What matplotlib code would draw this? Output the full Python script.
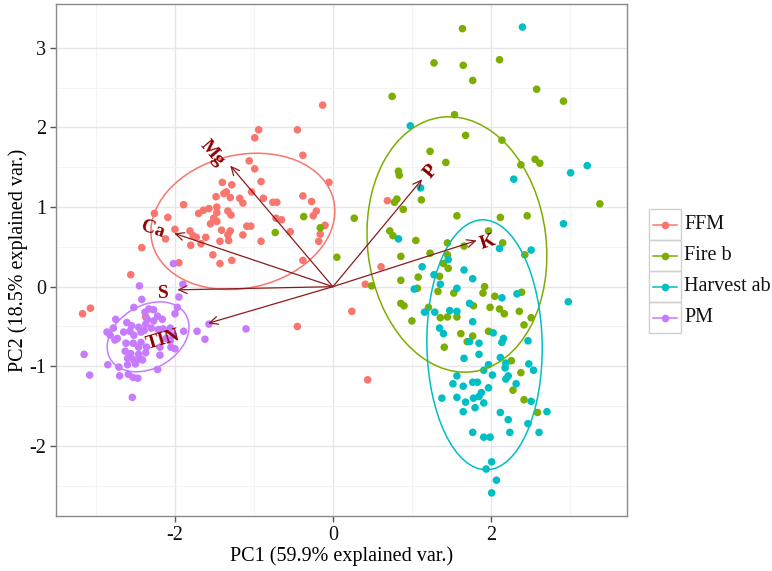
import numpy as np
import matplotlib
matplotlib.use("Agg")
import matplotlib.pyplot as plt
from matplotlib.patches import Ellipse, Rectangle
from matplotlib.lines import Line2D

plt.rcParams['font.family'] = ['Liberation Serif', 'DejaVu Serif']

# ---- scores ----
ffm_x = [-0.13, -0.94, -0.45, -0.99, -0.38, -1.06, -0.99, -0.05, -1.40, -1.28,
         -0.91, -1.48, -1.38, -1.35, -1.30, -1.03, -1.18, -1.14, -0.88, -0.71,
         -0.76, -0.38, -0.27, -1.89, -1.70, -1.64, -1.57, -1.47, -1.47, -1.33,
         -1.29, -0.21, -0.25, -2.26, -2.09, -1.51, -1.55, -1.47, -0.72, -0.65,
         -0.10, -2.00, -1.81, -1.77, -1.41, -1.30, -1.33, -1.09, -1.04, -0.16,
         -2.12, -1.73, -1.61, -1.43, -1.32, -1.14, -0.91, -0.54, -0.18, -2.42,
         -1.80, -1.67, -1.52, -1.28, -1.43, -0.38, -1.95, -2.56, -3.17, -3.07,
         0.24, 0.69, 0.61, 0.41, 0.44, -0.45, -2.37]
ffm_y = [2.28, 1.97, 1.97, 1.87, 1.65, 1.58, 1.48, 1.31, 1.31, 1.28,
         1.32, 1.13, 1.17, 1.19, 1.12, 1.19, 1.11, 1.05, 1.11, 1.06,
         1.06, 1.14, 1.07, 1.03, 0.92, 0.96, 0.98, 1.00, 0.93, 0.95,
         0.90, 0.95, 0.89, 0.92, 0.87, 0.86, 0.79, 0.82, 0.86, 0.84,
         0.77, 0.72, 0.70, 0.64, 0.71, 0.70, 0.65, 0.76, 0.76, 0.66,
         0.60, 0.62, 0.62, 0.57, 0.58, 0.65, 0.57, 0.69, 0.57, 0.49,
         0.52, 0.54, 0.40, 0.33, 0.29, 0.33, 0.30, 0.15, -0.34, -0.27,
         -0.31, 1.08, 0.25, 0.03, -1.17, -0.50, -0.38]

fire_x = [1.64, 1.28, 1.65, 2.11, 1.77, 2.58, 2.92, 0.75, 1.54, 1.68,
          2.14, 1.23, 1.43, 2.38, 2.56, 2.62, 0.83, 0.84, 0.81, 0.78,
          1.12, 0.89, 3.38, 0.27, 1.57, 2.12, 2.46, 0.72, 0.76, 1.05,
          1.45, 1.97, 1.66, 2.15, -0.37, -0.16, -0.73, 0.05, 0.86, 1.23,
          1.45, 1.40, 1.46, 2.43, 1.08, 0.86, 0.49, 1.35, 1.07, 1.33,
          1.53, 1.92, 1.90, 2.05, 2.39, 0.86, 0.90, 1.21, 1.78, 1.99,
          2.11, 2.36, 2.17, 1.36, 1.45, 1.57, 2.51, 1.00, 2.42, 1.97,
          1.62, 1.77, 1.70, 1.41, 2.26, 2.38, 2.28, 2.42, 2.59]
fire_y = [3.24, 2.81, 2.78, 2.85, 2.59, 2.48, 2.33, 2.39, 2.16, 1.90,
          1.84, 1.70, 1.56, 1.53, 1.60, 1.55, 1.45, 1.40, 1.10, 1.06,
          1.09, 0.97, 1.04, 0.86, 0.89, 0.87, 0.89, 0.70, 0.64, 0.58,
          0.55, 0.70, 0.51, 0.55, 0.88, 0.74, 0.68, 0.37, 0.38, 0.42,
          0.40, 0.29, 0.23, 0.40, 0.12, 0.08, 0.01, 0.13, -0.02, -0.06,
          -0.08, 0.00, -0.08, -0.12, -0.07, -0.21, -0.24, -0.26, -0.24, -0.26,
          -0.28, -0.31, -0.34, -0.39, -0.38, -0.38, -0.39, -0.43, -0.48, -0.56,
          -0.59, -0.62, -0.69, -0.76, -0.93, -1.08, -1.30, -1.42, -1.58]

harv_x = [2.40, 0.98, 3.22, 3.01, 2.29, 1.11, 2.92, 0.83, 2.11, 2.51,
          1.46, 1.13, 1.66, 1.28, 1.77, 1.36, 1.03, 1.57, 2.33, 2.14,
          2.98, 1.73, 1.16, 1.29, 1.48, 1.57, 1.77, 1.35, 1.40, 2.03,
          2.16, 2.14, 2.47, 1.85, 1.73, 1.85, 1.66, 2.12, 2.19, 2.18,
          2.48, 2.54, 1.97, 1.91, 2.02, 1.57, 2.22, 2.19, 1.52, 1.65,
          1.77, 1.83, 1.97, 2.32, 1.88, 1.85, 1.78, 1.57, 1.38, 1.68,
          1.91, 1.80, 1.65, 2.51, 2.12, 2.71, 2.22, 2.47, 1.77, 2.24,
          2.61, 1.91, 1.99, 2.01, 1.94, 2.07, 2.01]
harv_y = [3.26, 2.02, 1.52, 1.43, 1.35, 1.24, 0.79, 0.60, 0.48, 0.46,
          0.34, 0.25, 0.21, 0.15, 0.10, 0.03, -0.03, -0.02, -0.09, -0.14,
          -0.19, -0.21, -0.32, -0.32, -0.30, -0.31, -0.44, -0.52, -0.59, -0.58,
          -0.65, -0.70, -0.68, -0.71, -0.69, -0.85, -0.90, -0.89, -0.96, -1.02,
          -0.97, -1.05, -0.98, -1.05, -1.11, -1.12, -1.12, -1.16, -1.22, -1.25,
          -1.20, -1.20, -1.27, -1.22, -1.33, -1.38, -1.40, -1.39, -1.40, -1.45,
          -1.46, -1.52, -1.57, -1.44, -1.58, -1.57, -1.67, -1.72, -1.83, -1.83,
          -1.83, -1.89, -1.89, -2.20, -2.29, -2.43, -2.59]

pm_x = [-2.02, -2.45, -1.90, -2.42, -1.95, -1.97, -2.52, -2.38, -2.33, -2.27,
        -2.22, -2.16, -2.35, -2.27, -2.75, -2.61, -2.55, -2.46, -2.37, -2.30,
        -2.21, -2.15, -2.06, -2.78, -2.86, -2.82, -2.65, -2.57, -2.52, -2.43,
        -2.39, -2.00, -1.89, -1.72, -1.57, -1.62, -1.10, -2.76, -2.73, -2.62,
        -2.53, -2.43, -2.46, -2.36, -2.19, -2.05, -2.00, -2.63, -2.56, -2.46,
        -2.37, -2.19, -2.60, -2.52, -2.44, -2.41, -3.15, -2.85, -2.71, -2.60,
        -2.50, -2.22, -3.08, -2.70, -2.59, -2.53, -2.47, -2.54, -2.06, -2.02,
        -2.11]
pm_y = [0.29, 0.01, 0.03, -0.16, -0.13, -0.26, -0.26, -0.32, -0.28, -0.29,
        -0.37, -0.41, -0.41, -0.43, -0.41, -0.45, -0.49, -0.51, -0.47, -0.52,
        -0.54, -0.53, -0.52, -0.52, -0.57, -0.61, -0.57, -0.56, -0.61, -0.57,
        -0.55, -0.34, -0.56, -0.56, -0.47, -0.66, -0.53, -0.67, -0.65, -0.71,
        -0.71, -0.70, -0.76, -0.76, -0.76, -0.76, -0.78, -0.81, -0.84, -0.85,
        -0.83, -0.86, -0.90, -0.92, -0.91, -0.92, -0.85, -0.98, -1.01, -0.98,
        -0.97, -1.04, -1.11, -1.12, -1.10, -1.14, -1.15, -1.39, -0.68, -0.61,
        -0.65]

groups = ['FFM', 'Fire b', 'Harvest ab', 'PM']
group_x = [ffm_x, fire_x, harv_x, pm_x]
group_y = [ffm_y, fire_y, harv_y, pm_y]
colors = ['#F8766D', '#7CAE00', '#00BFC4', '#C77CFF']

# normal-probability ellipses: centre, semi axes, angle (deg)
ell_cx = [-1.14, 1.57, 1.92, -2.34]
ell_cy = [0.82, 0.53, -0.73, -0.63]
ell_a = [1.18, 1.61, 1.57, 0.553]
ell_b = [0.835, 1.13, 0.73, 0.394]
ell_ang = [13, 97, 91, 30]

# variable loadings (arrow tips) and label spots
var_names = ['Mg', 'Ca', 'S', 'TIN', 'P', 'K']
var_x = [-1.30, -2.01, -1.97, -1.58, 1.13, 1.82]
var_y = [1.52, 0.67, -0.04, -0.46, 1.35, 0.58]
lab_x = [-1.53, -2.28, -2.15, -2.15, 1.24, 1.96]
lab_y = [1.68, 0.72, -0.09, -0.67, 1.44, 0.56]

W, H = 772, 571
fig = plt.figure(figsize=(W / 100, H / 100), dpi=100)
ax = fig.add_axes([55.7 / W, 1 - 516 / H, (626.7 - 55.7) / W, (516 - 4) / H])

ax.set_xlim(-3.51, 3.72)
ax.set_ylim(-2.88, 3.55)
ax.set_xticks([-2, 0, 2])
ax.set_yticks([-2, -1, 0, 1, 2, 3])
ax.set_xticks([-3, -1, 1, 3], minor=True)
ax.set_yticks([-2.5, -1.5, -0.5, 0.5, 1.5, 2.5], minor=True)
ax.grid(True, which='major', color='#e6e6e6', lw=1.0, zorder=0)
ax.grid(True, which='minor', color='#f4f4f4', lw=0.8, zorder=0)
ax.set_axisbelow(True)
for sp in ax.spines.values():
    sp.set_color('#8a8a8a')
    sp.set_linewidth(1.0)
ax.tick_params(which='major', length=4, width=1, color='#555555',
               labelsize=14.5, labelcolor='#111111', pad=3)
ax.tick_params(which='minor', length=0)
ax.set_xticklabels(['-2', '0', '2'])
ax.set_yticklabels(['-2', '-1', '0', '1', '2', '3'])

ax.set_xlabel('PC1 (59.9% explained var.)', fontsize=14.5, labelpad=1)
ax.set_ylabel('PC2 (18.5% explained var.)', fontsize=14.5, labelpad=1)

for gx, gy, c in zip(group_x, group_y, colors):
    ax.scatter(gx, gy, s=30, color=c, edgecolors='none', zorder=3)

for i in range(len(groups)):
    ax.add_patch(Ellipse((ell_cx[i], ell_cy[i]), 2 * ell_a[i], 2 * ell_b[i],
                         angle=ell_ang[i], fill=False, ec=colors[i], lw=1.1,
                         zorder=4))

arrow_col = '#8B1a1a'
for i, name in enumerate(var_names):
    ax.annotate('', xy=(var_x[i], var_y[i]), xytext=(0, 0),
                arrowprops=dict(arrowstyle='->,head_length=0.6,head_width=0.28',
                                color=arrow_col, lw=0.9, shrinkA=0, shrinkB=0),
                zorder=5)
    ang = np.degrees(np.arctan(var_y[i] / var_x[i]))
    ax.text(lab_x[i], lab_y[i], name, color='#8B0000', fontsize=14,
            fontweight='bold', rotation=ang, rotation_mode='anchor',
            ha='center', va='center', zorder=6)

# legend, drawn by hand in figure pixels (ggplot-style key boxes)
key_left, key_w, key_top, key_h = 649.3, 31.4, 209.3, 31.0
for i, (g, c) in enumerate(zip(groups, colors)):
    top = key_top + i * key_h
    fig.add_artist(Rectangle((key_left / W, 1 - (top + key_h) / H),
                             key_w / W, key_h / H, transform=fig.transFigure,
                             fill=False, ec='#d0d0d0', lw=1.0))
    cy = 1 - (top + key_h / 2) / H
    fig.add_artist(Line2D([(key_left + 4) / W, (key_left + key_w - 4) / W],
                          [cy, cy], transform=fig.transFigure, color=c,
                          lw=1.1, marker=None))
    fig.add_artist(Line2D([(key_left + key_w / 2) / W], [cy],
                          transform=fig.transFigure, color=c, marker='o',
                          markersize=5.5, markeredgewidth=0, linestyle='None'))
    fig.text((key_left + key_w + 3.5) / W, cy, g, fontsize=14.5,
             ha='left', va='center', color='#111111')

fig.savefig('out.png', dpi=100)
